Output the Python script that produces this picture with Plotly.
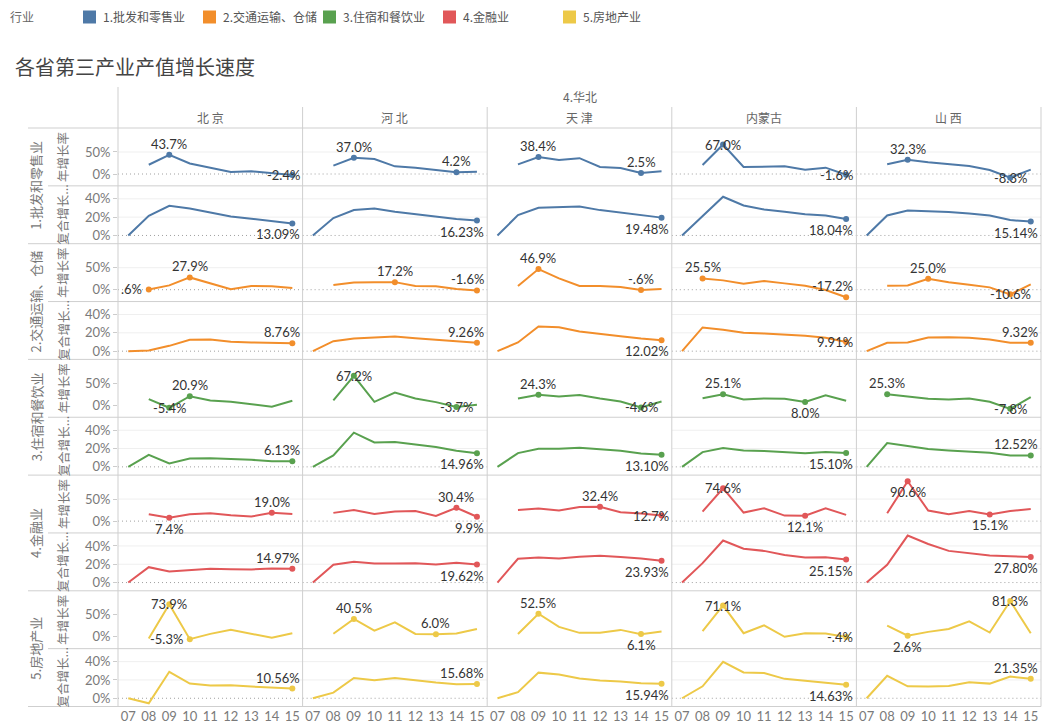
import plotly.graph_objects as go

# ---------------- data ----------------
years = ['07', '08', '09', '10', '11', '12', '13', '14', '15']
provinces = ['北 京', '河 北', '天 津', '内蒙古', '山 西']
region = '4.华北'
industries = ['1.批发和零售业', '2.交通运输、仓储', '3.住宿和餐饮业', '4.金融业', '5.房地产业']
metrics = ['年增长率', '复合增长...']
legend_title = '行业'
chart_title = '各省第三产业产值增长速度'

# 年增长率 (%), one list per province: 北京, 河北, 天津, 内蒙古, 山西
annual_wholesale = [
    [None, 21, 43.7, 24, 14, 4.5, 6, 1.5, -2.4],
    [None, 19, 37.0, 34, 17.4, 14.4, 9, 4.2, 5.3],
    [None, 22, 38.4, 31.8, 36, 16, 13.6, 2.5, 6],
    [None, 20.5, 67.0, 16, 16, 17.4, 9.8, 14.4, -1.6],
    [None, 22, 32.3, 26.5, 22, 18.2, 9, -8.3, 9.8],
]
annual_transport = [
    [None, 0.6, 9.8, 27.9, 15, 1, 8.3, 7.6, 3.8],
    [None, 10.6, 16.5, 17.0, 17.2, 8.3, 7.6, 1.5, -1.6],
    [None, 8.3, 46.9, 25.8, 8.3, 8.3, 6, -0.6, 1.5],
    [None, 25.5, 21.2, 13.6, 19.7, 14.4, 9.1, -0.8, -17.2],
    [None, 9.1, 9.8, 25.0, 16.7, 11.4, 5.3, -10.6, 12.1],
]
annual_hotel = [
    [None, 14.2, -5.4, 20.9, 11.2, 8.2, 3, -3, 10.4],
    [None, 11.2, 67.2, 8.2, 29, 15.7, 7.5, -3.7, 1.5],
    [None, 15.7, 24.3, 20, 23.5, 15.7, 9, -4.6, 9],
    [None, 16.4, 25.1, 13.4, 15.7, 14.9, 8.0, 23.1, 10.4],
    [None, 25.3, 20, 14.9, 13.4, 15.7, 8.2, -7.8, 18.7],
]
annual_finance = [
    [None, 15.7, 7.4, 15.7, 18, 13.4, 10.4, 19.0, 16.4],
    [None, 18.7, 25.4, 16.4, 21.6, 23.1, 11.9, 30.4, 9.9],
    [None, 25.4, 28.4, 23.9, 32.0, 32.4, 20.1, 17.2, 12.7],
    [None, 21.6, 74.6, 19.4, 29.1, 12.5, 12.1, 29.1, 14.2],
    [None, 17.9, 90.6, 23.9, 15.7, 23.1, 15.1, 23.1, 27.6],
]
annual_realestate = [
    [None, -4.0, 73.9, -5.3, 6.7, 15.7, 7.5, -2.2, 8.2],
    [None, 7, 40.5, 14.2, 32.8, 6.5, 6.0, 7.5, 17.9],
    [None, 6.5, 52.5, 22.4, 9, 9, 15.7, 6.1, 11.9],
    [None, 12.7, 71.1, 8.2, 26.1, 0, 8.2, 7.5, -0.4],
    [None, 25.4, 2.6, 11.2, 17.9, 35, 9.7, 81.3, 8.2],
]

# 复合增长率 (%)
cagr_wholesale = [
    [0, 21.5, 32.4, 29.5, 25, 20.8, 18.2, 15.7, 13.09],
    [0, 19, 27.7, 29.5, 25.9, 23, 20, 17.9, 16.23],
    [0, 22.2, 30.2, 30.6, 31.7, 27.7, 25.1, 22.2, 19.48],
    [0, 21.1, 42.3, 32.8, 28.4, 25.9, 23.3, 21.9, 18.04],
    [0, 21.9, 27.3, 26.6, 25.5, 24, 21.9, 16.8, 15.14],
]
cagr_transport = [
    [0, 0.7, 5.8, 12.4, 12.7, 10.2, 9.5, 9.1, 8.76],
    [0, 10.9, 13.8, 15.3, 16, 14.2, 12.7, 11.3, 9.26],
    [0, 9.5, 27, 26.2, 21.5, 18.6, 16.4, 13.8, 12.02],
    [0, 25.9, 23.3, 20, 19.3, 18.2, 16.8, 14.6, 9.91],
    [0, 9.1, 9.5, 14.9, 15.3, 14.6, 12.7, 9.1, 9.32],
]
cagr_hotel = [
    [0, 13.2, 3.7, 9.2, 9.5, 8.8, 7.7, 6.2, 6.13],
    [0, 12.5, 37.4, 26.7, 27.1, 24.5, 21.6, 17.6, 14.96],
    [0, 15, 19.8, 19.8, 20.9, 19.4, 17.6, 14.7, 13.10],
    [0, 16.1, 20.5, 17.9, 17.2, 16.5, 15, 16.1, 15.10],
    [0, 26, 22.7, 19.4, 17.9, 16.8, 15.4, 12.5, 12.52],
]
cagr_finance = [
    [0, 16.8, 12.1, 13.5, 15, 14.6, 14.3, 15.4, 14.97],
    [0, 19.4, 22.7, 20.9, 20.9, 21.2, 19.8, 21.6, 19.62],
    [0, 26, 27.5, 26.4, 28.2, 29.3, 27.8, 26.4, 23.93],
    [0, 21.2, 46, 36.9, 34.6, 30.2, 27.3, 27.7, 25.15],
    [0, 19.4, 51.3, 42.1, 34.6, 32.1, 29.5, 28.8, 27.80],
]
cagr_realestate = [
    [0, -5.5, 28.9, 16.1, 13.9, 14.3, 12.8, 11.4, 10.56],
    [0, 6.2, 22.2, 19.7, 22.2, 19.3, 17.1, 15.3, 15.68],
    [0, 6.6, 28, 25.9, 21.5, 19.3, 18.2, 16.4, 15.94],
    [0, 13.1, 39.9, 28.2, 27.5, 21.2, 19, 17.1, 14.63],
    [0, 24.5, 13.1, 12.8, 13.5, 17.5, 16, 23.7, 21.35],
]

annual = [annual_wholesale, annual_transport, annual_hotel, annual_finance, annual_realestate]
cagr = [cagr_wholesale, cagr_transport, cagr_hotel, cagr_finance, cagr_realestate]

annual_ticks = [0, 50]
cagr_ticks = [0, 20, 40]

# ---------------- style ----------------
colors = ['#4e79a7', '#f28e2b', '#59a14f', '#e15759', '#edc948']
# label placement: T=top, B=bottom, M=middle(on point), L=left
min_label_pos = [
    ['M', 'T', 'T', 'M', 'M'],
    ['L', 'T', 'T', 'T', 'M'],
    ['M', 'M', 'M', 'B', 'M'],
    ['B', 'B', 'M', 'B', 'B'],
    ['L', 'T', 'B', 'M', 'B'],
]
last_label_pos = [
    ['B', 'B', 'B', 'B', 'B'],
    ['T', 'T', 'B', 'M', 'T'],
    ['T', 'B', 'B', 'B', 'T'],
    ['T', 'B', 'B', 'B', 'B'],
    ['T', 'T', 'B', 'B', 'T'],
]

W, H = 1063, 726
LEFT, RIGHT = 118, 1041
TOP, BOTTOM = 128, 706.5
NC, NR = 5, 10
COLW = (RIGHT - LEFT) / NC
ROWH = (BOTTOM - TOP) / NR
ANNUAL_RANGE = [-26.9, 104.5]
CAGR_RANGE = [-9.0, 54.2]
GRID = '#cfcfcf'
LBL_FONT = 'Lato, "Noto Sans CJK SC", sans-serif'
CJK_FONT = '"Noto Sans CJK SC", Lato, sans-serif'


def fx(x):
    return x / W


def fy(y):
    return 1 - y / H


def fmt_annual(v):
    s = f'{v:.1f}%'
    if s.startswith('0.'):
        s = s[1:]
    elif s.startswith('-0.'):
        s = '-' + s[2:]
    return s


def text_w(s):
    w = 0
    for ch in s:
        if ch.isdigit():
            w += 7.4
        elif ch == '.':
            w += 3.4
        elif ch == '%':
            w += 11.5
        else:
            w += 4.6
    return w


fig = go.Figure()
layout = dict(
    width=W, height=H,
    margin=dict(l=0, r=0, t=0, b=0),
    paper_bgcolor='white', plot_bgcolor='white',
    showlegend=False,
    font=dict(family=LBL_FONT, color='#333'),
)
shapes = []
annotations = []

xidx = list(range(len(years)))

for k in range(len(industries)):
    for m in range(2):
        r = 2 * k + m
        for c in range(NC):
            i = r * NC + c + 1
            xn = 'x' if i == 1 else f'x{i}'
            yn = 'y' if i == 1 else f'y{i}'
            xk = 'xaxis' if i == 1 else f'xaxis{i}'
            yk = 'yaxis' if i == 1 else f'yaxis{i}'
            x0 = LEFT + c * COLW
            x1 = x0 + COLW
            y0 = TOP + r * ROWH
            y1 = y0 + ROWH
            ticks = annual_ticks if m == 0 else cagr_ticks
            layout[xk] = dict(
                domain=[fx(x0), fx(x1)], anchor=yn, range=[-0.5, len(years) - 0.5],
                showgrid=False, zeroline=False, showline=False,
                tickmode='array', tickvals=xidx, ticktext=years,
                showticklabels=(r == NR - 1), ticks='',
                tickfont=dict(size=13, color='#7a7a7a', family=LBL_FONT),
                fixedrange=True,
            )
            layout[yk] = dict(
                domain=[fy(y1), fy(y0)], anchor=xn,
                range=ANNUAL_RANGE if m == 0 else CAGR_RANGE,
                showgrid=False, zeroline=False, showline=False,
                tickmode='array', tickvals=ticks, ticktext=[f'{t}%' for t in ticks],
                showticklabels=(c == 0), ticks='outside' if c == 0 else '',
                ticklen=4, tickcolor='#cccccc',
                tickfont=dict(size=13, color='#7a7a7a', family=LBL_FONT),
                fixedrange=True,
            )
            # light gridlines and dotted zero line
            for t in ticks:
                if t == 0:
                    shapes.append(dict(type='line', xref='paper', yref=yn,
                                       x0=fx(x0), x1=fx(x1), y0=0, y1=0, layer='below',
                                       line=dict(color='#a0a0a0', width=1, dash='1px,3px')))
                else:
                    shapes.append(dict(type='line', xref='paper', yref=yn,
                                       x0=fx(x0), x1=fx(x1), y0=t, y1=t, layer='below',
                                       line=dict(color='#efefef', width=1)))
            vals = annual[k][c] if m == 0 else cagr[k][c]
            col = colors[k]
            fig.add_trace(go.Scatter(x=xidx, y=vals, mode='lines', xaxis=xn, yaxis=yn,
                                     line=dict(color=col, width=2), hoverinfo='skip',
                                     connectgaps=False))
            # labelled points
            pts = []
            valid = [(j, v) for j, v in enumerate(vals) if v is not None]
            if m == 0:
                jmax, vmax = max(valid, key=lambda t: t[1])
                jmin, vmin = min(valid, key=lambda t: t[1])
                pmax = 'T' if vmax <= 62 else ('M' if vmax <= 85 else 'B')
                pts.append((jmax, vmax, fmt_annual(vmax), pmax))
                pts.append((jmin, vmin, fmt_annual(vmin), min_label_pos[k][c]))
            else:
                j = len(vals) - 1
                pts.append((j, vals[j], f'{vals[j]:.2f}%', last_label_pos[k][c]))
            fig.add_trace(go.Scatter(x=[p[0] for p in pts], y=[p[1] for p in pts],
                                     mode='markers', xaxis=xn, yaxis=yn, hoverinfo='skip',
                                     marker=dict(color=col, size=6)))
            for (j, v, txt, pos) in pts:
                w = text_w(txt)
                ppx = (j + 0.5) * COLW / len(years)
                ax = dict(x=j, y=v, xref=xn, yref=yn, text=txt, showarrow=False,
                          font=dict(size=13, color='#333', family=LBL_FONT),
                          xanchor='center', yanchor='middle', xshift=0, yshift=0)
                if pos == 'T':
                    ax['yshift'] = 11
                elif pos == 'B':
                    ax['yshift'] = -11
                if pos == 'L':
                    ax['xanchor'] = 'right'
                    ax['xshift'] = -5
                elif ppx + w / 2 > COLW - 2:
                    ax['x'] = len(years) - 0.5
                    ax['xanchor'] = 'right'
                    ax['xshift'] = -1
                elif ppx - w / 2 < 2:
                    ax['x'] = -0.5
                    ax['xanchor'] = 'left'
                    ax['xshift'] = 2
                annotations.append(ax)

# ---------------- borders ----------------
def hline(y, xa, xb):
    shapes.append(dict(type='line', xref='paper', yref='paper', x0=fx(xa), x1=fx(xb),
                       y0=fy(y), y1=fy(y), line=dict(color=GRID, width=1), layer='above'))


def vline(x, ya, yb):
    shapes.append(dict(type='line', xref='paper', yref='paper', x0=fx(x), x1=fx(x),
                       y0=fy(ya), y1=fy(yb), line=dict(color=GRID, width=1), layer='above'))


hline(TOP, 28, RIGHT)
for r in range(1, NR):
    hline(TOP + r * ROWH, 28 if r % 2 == 0 else 48, RIGHT)
hline(BOTTOM, 28, RIGHT)
vline(LEFT, 87, BOTTOM)
vline(RIGHT, 107, BOTTOM)
for c in range(1, NC):
    vline(LEFT + c * COLW, 107, BOTTOM)

# ---------------- headers ----------------
annotations.append(dict(x=fx((LEFT + RIGHT) / 2), y=fy(97), xref='paper', yref='paper',
                        text=region, showarrow=False, xanchor='center', yanchor='middle',
                        font=dict(size=12, color='#666', family=CJK_FONT)))
for c, p in enumerate(provinces):
    annotations.append(dict(x=fx(LEFT + (c + 0.5) * COLW), y=fy(117), xref='paper', yref='paper',
                            text=p, showarrow=False, xanchor='center', yanchor='middle',
                            font=dict(size=12, color='#666', family=CJK_FONT)))
for k, name in enumerate(industries):
    annotations.append(dict(x=fx(36), y=fy(TOP + (2 * k + 1) * ROWH), xref='paper', yref='paper',
                            text=name, showarrow=False, textangle=-90,
                            xanchor='center', yanchor='middle',
                            font=dict(size=13, color='#777', family=CJK_FONT)))
    for m in range(2):
        annotations.append(dict(x=fx(63), y=fy(TOP + (2 * k + m + 0.5) * ROWH), xref='paper',
                                yref='paper', text=metrics[m], showarrow=False, textangle=-90,
                                xanchor='center', yanchor='middle',
                                font=dict(size=12.5, color='#777', family=CJK_FONT)))

# title
annotations.append(dict(x=fx(13), y=fy(67), xref='paper', yref='paper', text=chart_title,
                        showarrow=False, xanchor='left', yanchor='middle',
                        font=dict(size=20, color='#444', family=CJK_FONT)))

# legend
annotations.append(dict(x=fx(8), y=fy(17), xref='paper', yref='paper', text=legend_title,
                        showarrow=False, xanchor='left', yanchor='middle',
                        font=dict(size=12, color='#666', family=CJK_FONT)))
for k, name in enumerate(industries):
    sx = 83 + 120 * k
    shapes.append(dict(type='rect', xref='paper', yref='paper', x0=fx(sx), x1=fx(sx + 13),
                       y0=fy(23.5), y1=fy(10.5), fillcolor=colors[k], line=dict(width=0)))
    annotations.append(dict(x=fx(sx + 18), y=fy(17), xref='paper', yref='paper', text=name,
                            showarrow=False, xanchor='left', yanchor='middle',
                            font=dict(size=12, color='#555', family=CJK_FONT)))

layout['shapes'] = shapes
layout['annotations'] = annotations
fig.update_layout(**layout)
fig.write_html('out.html', config={'displayModeBar': False},
               post_script="document.body.style.margin='0';")
